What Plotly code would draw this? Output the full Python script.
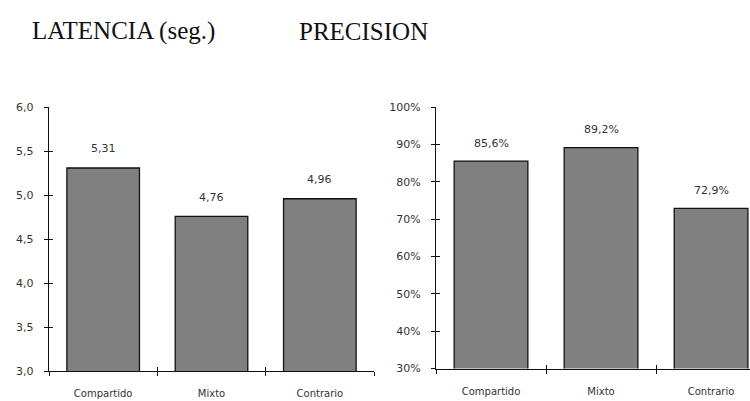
import plotly.graph_objects as go

categories = ["Compartido", "Mixto", "Contrario"]
latencia = [5.31, 4.76, 4.96]
precision = [85.6, 89.2, 72.9]
lat_ticks = [3.0, 3.5, 4.0, 4.5, 5.0, 5.5, 6.0]
prec_ticks = [30, 40, 50, 60, 70, 80, 90, 100]
titles = ["LATENCIA (seg.)", "PRECISION"]

W, H = 750, 401
bar_color = "#808080"
text_color = "#333333"
axis_color = "#111111"
tick_font = dict(family="DejaVu Sans", size=11, color=text_color)
cat_font = dict(family="DejaVu Sans", size=10, color=text_color)

ydom1 = [(H - 377.3) / H, (H - 104.7) / H]
ydom2 = [(H - 374.7) / H, (H - 104.7) / H]
xdom1 = [49 / W, 374 / W]
xdom2 = [436 / W, 1.0]
xr1 = [-0.5, 2.5]
xr2 = [-0.5, 2.354]
yr1 = [lat_ticks[0], lat_ticks[-1]]
yr2 = [prec_ticks[0], prec_ticks[-1]]
boundaries = [-0.5, 0.5, 1.5, 2.5]

fig = go.Figure()
fig.add_trace(go.Bar(x=categories, y=latencia, width=0.67, xaxis="x", yaxis="y",
                     marker=dict(color=bar_color, line=dict(color="#111111", width=1.3)),
                     showlegend=False, hoverinfo="skip"))
fig.add_trace(go.Bar(x=categories, y=precision, width=0.67, xaxis="x2", yaxis="y2",
                     marker=dict(color=bar_color, line=dict(color="#111111", width=1.3)),
                     showlegend=False, hoverinfo="skip"))
# empty traces so the overlay axes (inner halves of the crossing ticks) get drawn
fig.add_trace(go.Scatter(x=[None], y=[None], xaxis="x3", yaxis="y3", mode="markers",
                         showlegend=False, hoverinfo="skip"))
fig.add_trace(go.Scatter(x=[None], y=[None], xaxis="x4", yaxis="y4", mode="markers",
                         showlegend=False, hoverinfo="skip"))

common_axis = dict(showgrid=False, zeroline=False, showline=True, linecolor=axis_color,
                   linewidth=1.4, tickcolor=axis_color, tickwidth=1.3)
overlay_axis = dict(ticks="inside", ticklen=4, showticklabels=False, showline=False,
                    showgrid=False, zeroline=False, tickcolor=axis_color, tickwidth=1.3,
                    fixedrange=True)

layout = dict(
    width=W, height=H, margin=dict(l=0, r=0, t=0, b=0),
    plot_bgcolor="white", paper_bgcolor="white", separators=",.",
    showlegend=False,
    xaxis=dict(domain=xdom1, anchor="y", type="category", categoryarray=categories,
               range=xr1, tickson="boundaries", ticks="outside", ticklen=4,
               tickfont=cat_font, ticklabelstandoff=13, **common_axis),
    yaxis=dict(domain=ydom1, anchor="x", range=yr1, tickvals=lat_ticks,
               ticktext=[f"{t:.1f}".replace(".", ",") for t in lat_ticks],
               ticks="outside", ticklen=4, tickfont=tick_font, ticklabelstandoff=8,
               **common_axis),
    xaxis2=dict(domain=xdom2, anchor="y2", type="category", categoryarray=categories,
                range=xr2, tickson="boundaries", ticks="outside", ticklen=4,
                tickfont=cat_font, ticklabelstandoff=13, **common_axis),
    yaxis2=dict(domain=ydom2, anchor="x2", range=yr2, tickvals=prec_ticks,
                ticktext=[f"{t}%" for t in prec_ticks],
                ticks="outside", ticklen=4, tickfont=tick_font, ticklabelstandoff=8,
                **common_axis),
    xaxis3=dict(overlaying="x", anchor="y", range=xr1, tickvals=boundaries, **overlay_axis),
    yaxis3=dict(overlaying="y", anchor="x", range=yr1, tickvals=lat_ticks, **overlay_axis),
    xaxis4=dict(overlaying="x2", anchor="y2", range=xr2, tickvals=boundaries, **overlay_axis),
    yaxis4=dict(overlaying="y2", anchor="x2", range=yr2, tickvals=prec_ticks, **overlay_axis),
)
fig.update_layout(**layout)

annotations = []
for c, v in zip(categories, latencia):
    annotations.append(dict(x=c, y=v, xref="x", yref="y", text=f"{v:.2f}".replace(".", ","),
                            showarrow=False, yanchor="middle", yshift=19, font=tick_font))
for c, v in zip(categories, precision):
    annotations.append(dict(x=c, y=v, xref="x2", yref="y2", text=f"{v:.1f}%".replace(".", ","),
                            showarrow=False, yanchor="middle", yshift=18, font=tick_font))

title_font = dict(family="Liberation Serif", size=25, color="#111111")
annotations.append(dict(x=30 / W, y=(H - 26) / H, xref="paper", yref="paper", text=titles[0],
                        showarrow=False, xanchor="left", yanchor="middle", font=title_font))
annotations.append(dict(x=297 / W, y=(H - 26) / H, xref="paper", yref="paper", text=titles[1],
                        showarrow=False, xanchor="left", yanchor="middle", font=title_font))
fig.update_layout(annotations=annotations)

fig.write_html("out.html")
